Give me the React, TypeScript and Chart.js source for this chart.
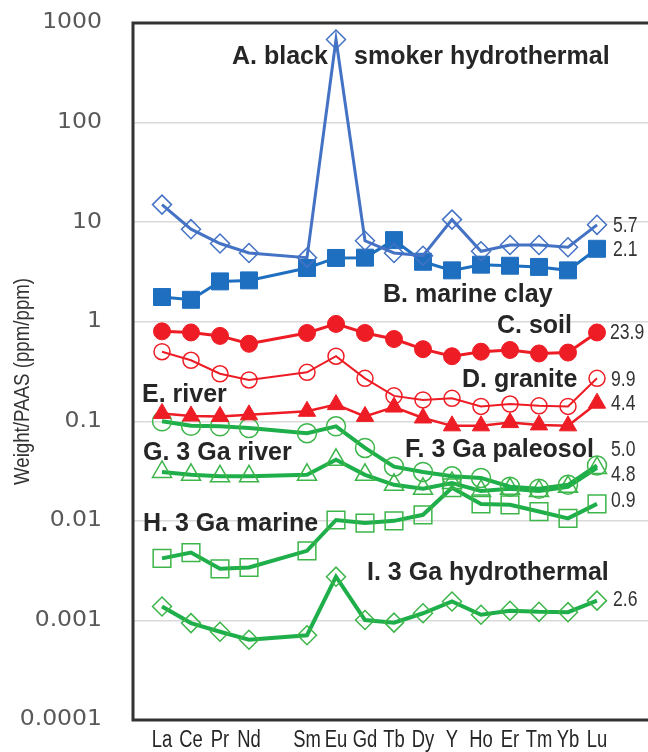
import React, { useEffect, useRef } from 'react';
import { Chart, registerables } from 'chart.js';
Chart.register(...registerables);

// Rare earth elements + Y (Pm left blank on the axis)
const elements = ['La', 'Ce', 'Pr', 'Nd', 'Sm', 'Eu', 'Gd', 'Tb', 'Dy', 'Y', 'Ho', 'Er', 'Tm', 'Yb', 'Lu'];
const axisLabels = ['', 'La', 'Ce', 'Pr', 'Nd', '', 'Sm', 'Eu', 'Gd', 'Tb', 'Dy', 'Y', 'Ho', 'Er', 'Tm', 'Yb', 'Lu', '', ''];
const yTicks = [0.0001, 0.001, 0.01, 0.1, 1, 10, 100, 1000];
const yTickLabels = ['0.0001', '0.001', '0.01', '0.1', '1', '10', '100', '1000'];

const blackSmoker = [15.0, 8.5, 6.1, 4.9, 4.4, 683, 6.5, 4.9, 4.6, 10.6, 5.1, 5.9, 5.9, 5.6, 9.4];
const marineClay = [1.77, 1.66, 2.54, 2.6, 3.46, 4.37, 4.4, 6.6, 4.0, 3.28, 3.74, 3.65, 3.55, 3.28, 5.4];
const soil = [0.8, 0.78, 0.72, 0.6, 0.77, 0.95, 0.77, 0.67, 0.53, 0.45, 0.5, 0.52, 0.48, 0.49, 0.78];
const granite = [0.5, 0.41, 0.3, 0.26, 0.31, 0.45, 0.27, 0.18, 0.164, 0.17, 0.141, 0.149, 0.143, 0.141, 0.27];
const river = [0.12, 0.113, 0.112, 0.116, 0.126, 0.147, 0.112, 0.139, 0.108, 0.09, 0.09, 0.097, 0.092, 0.09, 0.152];
const paleosol3Ga = [0.1, 0.09, 0.089, 0.0855, 0.076, 0.089, 0.054, 0.035, 0.031, 0.028, 0.027, 0.022, 0.021, 0.023, 0.036];
const river3Ga = [0.031, 0.029, 0.028, 0.028, 0.029, 0.041, 0.029, 0.023, 0.021, 0.024, 0.02, 0.021, 0.02, 0.022, 0.034];
const marine3Ga = [0.0042, 0.0048, 0.0033, 0.0034, 0.005, 0.0102, 0.0095, 0.01, 0.0115, 0.0215, 0.0148, 0.0145, 0.0124, 0.0106, 0.0148];
const hydrothermal3Ga = [0.00138, 0.00094, 0.00077, 0.00064, 0.00071, 0.00275, 0.00101, 0.00095, 0.00118, 0.00155, 0.00114, 0.00125, 0.00122, 0.00121, 0.00158];

const seriesNames = ['A. black smoker hydrothermal', 'B. marine clay', 'C. soil', 'D. granite', 'E. river', 'F. 3 Ga paleosol', 'G. 3 Ga river', 'H. 3 Ga marine', 'I. 3 Ga hydrothermal'];

// Text annotations: [text, left x, centre y]
const boldNotes: [string, number, number][] = [
  ['A. black', 232, 57],
  ['smoker hydrothermal', 354, 57],
  ['B. marine clay', 383, 295],
  ['C. soil', 497, 326],
  ['D. granite', 462, 380],
  ['E. river', 142, 395],
  ['F. 3 Ga paleosol', 405, 450],
  ['G. 3 Ga river', 143, 453],
  ['H. 3 Ga marine', 143, 524],
  ['I. 3 Ga hydrothermal', 367, 573],
];
const sideNotes: [string, number, number][] = [
  ['5.7', 613, 226],
  ['2.1', 613, 250],
  ['23.9', 610, 333],
  ['9.9', 611, 380],
  ['4.4', 611, 404],
  ['5.0', 611, 450],
  ['4.8', 611, 475],
  ['0.9', 611, 501],
  ['2.6', 613, 600],
];

const SANS = '"Liberation Sans", Arial, sans-serif';
const BLUE_A = '#4472C4';
const BLUE_B = '#1F6FC0';
const RED = '#EE1C24';
const GREEN = '#1EAF4A';
const GREEN_M = '#3DB54A';

function pad(values: number[]) {
  return axisLabels.map((l) => {
    const i = elements.indexOf(l);
    return l && i >= 0 ? values[i] : null;
  });
}

function ds(label: string, values: number[], opts: any) {
  return { label, data: pad(values), spanGaps: true, tension: 0, clip: 20, ...opts };
}

// text drawn with horizontal squeeze / stretch
function squeezed(ctx: CanvasRenderingContext2D, text: string, x: number, y: number, sx: number, align: CanvasTextAlign) {
  ctx.save();
  ctx.translate(x, y);
  ctx.scale(sx, 1);
  ctx.textAlign = align;
  ctx.fillText(text, 0, 0);
  ctx.restore();
}

const framePlugin = {
  id: 'frameAndNotes',
  afterDraw(chart: any) {
    const { ctx, chartArea } = chart;
    const xs = chart.scales.x;
    const ys = chart.scales.y;
    ctx.save();
    ctx.strokeStyle = '#333333';
    ctx.lineWidth = 3;
    ctx.strokeRect(chartArea.left, chartArea.top, chartArea.right - chartArea.left, chartArea.bottom - chartArea.top);
    ctx.textBaseline = 'middle';

    // y tick labels
    ctx.fillStyle = '#595959';
    ctx.font = '21px "DejaVu Sans", sans-serif';
    yTicks.forEach((v, i) => squeezed(ctx, yTickLabels[i], chartArea.left - 31, ys.getPixelForValue(v), 1.12, 'right'));

    // x tick labels
    ctx.fillStyle = '#262626';
    ctx.font = '23px ' + SANS;
    axisLabels.forEach((l, i) => {
      if (l) squeezed(ctx, l, xs.getPixelForTick(i), chartArea.bottom + 21, 0.8, 'center');
    });

    // y title
    ctx.save();
    ctx.translate(23, (chartArea.top + chartArea.bottom) / 2 + 10);
    ctx.rotate(-Math.PI / 2);
    ctx.fillStyle = '#333333';
    ctx.font = '22px ' + SANS;
    squeezed(ctx, 'Weight/PAAS (ppm/ppm)', 0, 0, 0.85, 'center');
    ctx.restore();

    ctx.fillStyle = '#262626';
    ctx.textAlign = 'left';
    ctx.font = 'bold 25px ' + SANS;
    for (const [t, x, y] of boldNotes) ctx.fillText(t, x, y);
    ctx.fillStyle = '#333333';
    ctx.font = '22px ' + SANS;
    for (const [t, x, y] of sideNotes) squeezed(ctx, t, x, y, 0.8, 'left');
    ctx.restore();
  },
};

export default function App() {
  const ref = useRef<HTMLCanvasElement>(null);
  useEffect(() => {
    if (!ref.current) return;
    const open = 'rgba(255,255,255,0)';
    const datasets = [
      ds(seriesNames[0], blackSmoker, { borderColor: BLUE_A, borderWidth: 3, pointStyle: 'rectRot', pointRadius: 9.5, pointBorderColor: BLUE_A, pointBackgroundColor: open, pointBorderWidth: 1.5 }),
      ds(seriesNames[1], marineClay, { borderColor: BLUE_B, borderWidth: 3, pointStyle: 'rect', pointRadius: 12, pointBorderColor: BLUE_B, pointBackgroundColor: BLUE_B, pointBorderWidth: 1 }),
      ds(seriesNames[2], soil, { borderColor: RED, borderWidth: 3, pointStyle: 'circle', pointRadius: 8.5, pointBorderColor: RED, pointBackgroundColor: RED, pointBorderWidth: 1 }),
      ds(seriesNames[3], granite, { borderColor: RED, borderWidth: 2, pointStyle: 'circle', pointRadius: 8, pointBorderColor: RED, pointBackgroundColor: open, pointBorderWidth: 1.5 }),
      ds(seriesNames[4], river, { borderColor: RED, borderWidth: 2.5, pointStyle: 'triangle', pointRadius: 10, pointBorderColor: RED, pointBackgroundColor: RED, pointBorderWidth: 1 }),
      ds(seriesNames[5], paleosol3Ga, { borderColor: GREEN, borderWidth: 4, pointStyle: 'circle', pointRadius: 9.5, pointBorderColor: GREEN_M, pointBackgroundColor: open, pointBorderWidth: 1.5 }),
      ds(seriesNames[6], river3Ga, { borderColor: GREEN, borderWidth: 4, pointStyle: 'triangle', pointRadius: 11, pointBorderColor: GREEN_M, pointBackgroundColor: open, pointBorderWidth: 1.5 }),
      ds(seriesNames[7], marine3Ga, { borderColor: GREEN, borderWidth: 4, pointStyle: 'rect', pointRadius: 12.5, pointBorderColor: GREEN_M, pointBackgroundColor: open, pointBorderWidth: 1.5 }),
      ds(seriesNames[8], hydrothermal3Ga, { borderColor: GREEN, borderWidth: 4, pointStyle: 'rectRot', pointRadius: 9.5, pointBorderColor: GREEN_M, pointBackgroundColor: open, pointBorderWidth: 1.5 }),
    ];
    const chart = new Chart(ref.current, {
      type: 'line',
      data: { labels: axisLabels, datasets },
      options: {
        animation: false,
        responsive: false,
        maintainAspectRatio: false,
        layout: { autoPadding: false, padding: { top: 23, right: 10, left: 0, bottom: 0 } },
        plugins: { legend: { display: false }, tooltip: { enabled: false } },
        scales: {
          x: {
            type: 'category',
            offset: false,
            grid: { display: false, drawTicks: false },
            border: { display: false },
            ticks: { autoSkip: false, maxRotation: 0, minRotation: 0, padding: 0, color: 'rgba(0,0,0,0)', font: { size: 10 } },
            afterFit: (s: any) => { s.height = 32; },
          },
          y: {
            type: 'logarithmic',
            min: 0.0001,
            max: 1000,
            grid: { color: '#D9D9D9', lineWidth: 1.5, drawTicks: false },
            border: { display: false },
            afterBuildTicks: (s: any) => { s.ticks = yTicks.map((v) => ({ value: v })); },
            ticks: {
              padding: 0,
              color: 'rgba(0,0,0,0)',
              font: { size: 10 },
              callback: (v: any) => yTickLabels[yTicks.indexOf(Number(v))] ?? '',
            },
            afterFit: (s: any) => { s.width = 133; },
          },
        },
      },
      plugins: [framePlugin],
    });
    return () => chart.destroy();
  }, []);
  return (
    <div style={{ position: 'fixed', left: 0, top: 0, width: 648, height: 752, overflow: 'hidden', background: '#fff' }}>
      <canvas ref={ref} width={665} height={752} style={{ display: 'block', width: 665, height: 752 }} />
    </div>
  );
}
